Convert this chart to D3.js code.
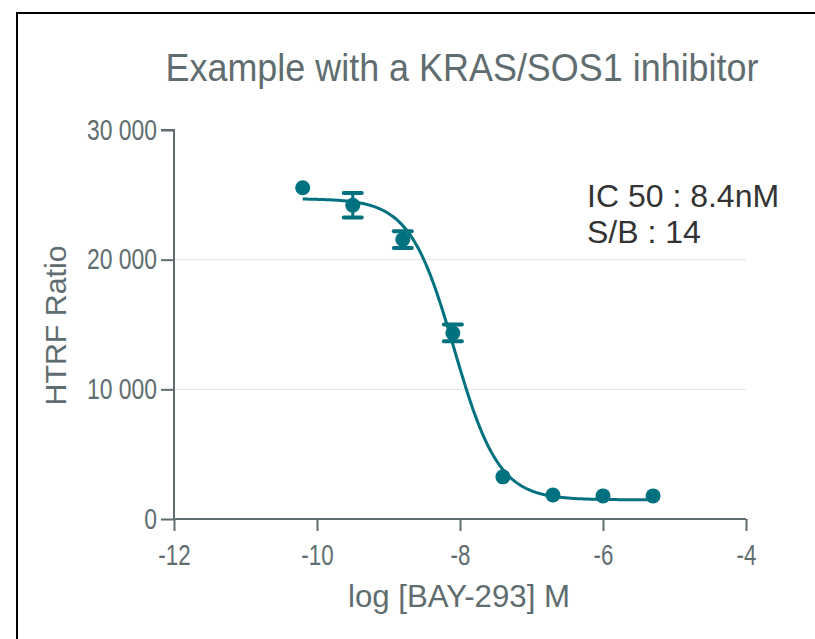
<!DOCTYPE html>
<html>
<head>
<meta charset="utf-8">
<script src="https://cdn.jsdelivr.net/npm/d3@7"></script>
<style>
  body { margin: 0; background: #fff; }
  svg text { font-family: "Liberation Sans", Arial, sans-serif; }
</style>
</head>
<body>
<div id="chart"></div>
<script>
// measured points (log M, HTRF ratio, error)
var logConc = [-10.2, -9.5, -8.8, -8.1, -7.4, -6.7, -6.0, -5.3]
var ratio = [25550, 24200, 21550, 14350, 3250, 1850, 1780, 1780]
var errBar = [0, 950, 650, 650, 0, 0, 0, 0]
// 4PL fit: bottom, top, logIC50, hill
var fitParams = [1480, 24700, -8.08, 1.4]
var xTicks = [-12, -10, -8, -6, -4]
var yTicks = [0, 10000, 20000, 30000]
var notes = ["IC 50 : 8.4nM", "S/B : 14"]

var width = 815, height = 639
var margin = { top: 130, right: 69, bottom: 120, left: 174 }
var w = width - margin.left - margin.right,
    h = height - margin.top - margin.bottom

var teal = "#00717f", grey = "#5f6d70"

// squeeze text a bit, the original uses a narrow face
function condense(sel, k) {
  sel.each(function () {
    var len = this.getComputedTextLength()
    d3.select(this).attr("textLength", len * k).attr("lengthAdjust", "spacingAndGlyphs")
  })
}

var svg = d3.select("#chart").append("svg")
  .attr("width", width).attr("height", height)

// frame
svg.append("rect")
  .attr("x", 17).attr("y", 13).attr("width", 820).attr("height", 660)
  .attr("fill", "none").attr("stroke", "#000").attr("stroke-width", 2)

var g = svg.append("g").attr("transform", "translate(" + margin.left + "," + margin.top + ")")

var x = d3.scaleLinear().domain([-12, -4]).range([0, w])
var y = d3.scaleLinear().domain([0, 30000]).range([h, 0])

// grid
g.selectAll(".grid").data(yTicks.filter(function (d) { return d > 0 && d < 30000 })).enter()
  .append("line")
  .attr("x1", 0).attr("x2", w)
  .attr("y1", function (d) { return y(d) }).attr("y2", function (d) { return y(d) })
  .attr("stroke", "#e3e3e3").attr("stroke-width", 1)

var fmt = function (d) { return d3.format(",")(d).replace(",", " ") }

var yAxis = g.append("g")
  .call(d3.axisLeft(y).tickValues(yTicks).tickFormat(fmt).tickSize(13).tickPadding(4))
var xAxis = g.append("g").attr("transform", "translate(0," + h + ")")
  .call(d3.axisBottom(x).tickValues(xTicks).tickFormat(function (d) { return String(d) }).tickSize(12).tickPadding(13))

;[yAxis, xAxis].forEach(function (a) {
  a.select(".domain").attr("stroke", grey).attr("stroke-width", 2)
  a.selectAll(".tick line").attr("stroke", grey).attr("stroke-width", 2)
  a.selectAll(".tick text").attr("fill", grey).style("font-size", "29px")
})
yAxis.select(".domain").attr("d", "M-13," + y(30000) + "H0V" + h)
xAxis.select(".domain").attr("d", "M0,0H" + w)
condense(yAxis.selectAll(".tick text"), 0.79)
condense(xAxis.selectAll(".tick text"), 0.77)

// fitted curve
var fit = function (v) {
  var b = fitParams[0], t = fitParams[1], c = fitParams[2], s = fitParams[3]
  return b + (t - b) / (1 + Math.pow(10, (v - c) * s))
}
var curveX = d3.range(logConc[0], logConc[logConc.length - 1] + 0.001, 0.02)
g.append("path")
  .datum(curveX)
  .attr("fill", "none").attr("stroke", teal).attr("stroke-width", 3)
  .attr("d", d3.line().x(function (d) { return x(d) }).y(function (d) { return y(fit(d)) }))

// error bars
var pts = logConc.map(function (d, i) { return { x: d, y: ratio[i], e: errBar[i] } })
var eb = g.selectAll(".err").data(pts.filter(function (d) { return d.e > 0 })).enter().append("g")
eb.append("line")
  .attr("x1", function (d) { return x(d.x) }).attr("x2", function (d) { return x(d.x) })
  .attr("y1", function (d) { return y(d.y - d.e) }).attr("y2", function (d) { return y(d.y + d.e) })
  .attr("stroke", teal).attr("stroke-width", 3)
;[-1, 1].forEach(function (sgn) {
  eb.append("line")
    .attr("x1", function (d) { return x(d.x) - 9 }).attr("x2", function (d) { return x(d.x) + 9 })
    .attr("y1", function (d) { return y(d.y + sgn * d.e) }).attr("y2", function (d) { return y(d.y + sgn * d.e) })
    .attr("stroke", teal).attr("stroke-width", 4).attr("stroke-linecap", "round")
})

// points
g.selectAll(".pt").data(pts).enter().append("circle")
  .attr("cx", function (d) { return x(d.x) }).attr("cy", function (d) { return y(d.y) })
  .attr("r", 7.5).attr("fill", teal)

// title & labels
svg.append("text").attr("x", 462).attr("y", 81).attr("text-anchor", "middle")
  .attr("fill", grey).style("font-size", "38px")
  .attr("textLength", 593).attr("lengthAdjust", "spacingAndGlyphs")
  .text("Example with a KRAS/SOS1 inhibitor")
svg.append("text").attr("x", 459).attr("y", 607).attr("text-anchor", "middle")
  .attr("fill", grey).style("font-size", "32px")
  .attr("textLength", 222).attr("lengthAdjust", "spacingAndGlyphs")
  .text("log [BAY-293] M")
svg.append("text").attr("transform", "translate(66," + (margin.top + h / 2 + 1) + ") rotate(-90)")
  .attr("text-anchor", "middle")
  .attr("fill", grey).style("font-size", "29px")
  .attr("textLength", 160).attr("lengthAdjust", "spacingAndGlyphs")
  .text("HTRF Ratio")

svg.selectAll(".note").data(notes).enter().append("text")
  .attr("x", 587).attr("y", function (d, i) { return 207 + i * 36 })
  .attr("fill", "#333").style("font-size", "32px")
  .text(function (d) { return d })
</script>
</body>
</html>
